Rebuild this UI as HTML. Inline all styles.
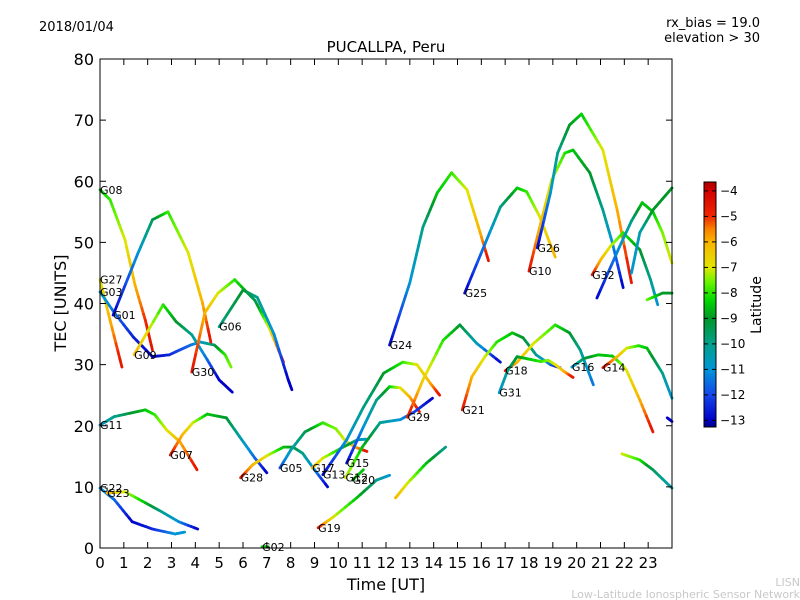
<!DOCTYPE html>
<html><head><meta charset="utf-8"><style>
body{margin:0;background:#fff;}
svg{display:block;font-family:"DejaVu Sans","Liberation Sans",sans-serif;}
</style></head><body>
<svg id="chart" width="800" height="600" xmlns="http://www.w3.org/2000/svg">
<rect width="800" height="600" fill="#fff"/>
<text x="39" y="31" font-size="13">2018/01/04</text>
<text x="386" y="52" font-size="15" text-anchor="middle">PUCALLPA, Peru</text>
<text x="760" y="27" font-size="13" text-anchor="end">rx_bias = 19.0</text>
<text x="760" y="42" font-size="13" text-anchor="end">elevation &gt; 30</text>
<text x="800" y="586" font-size="11" fill="#c8c8c8" text-anchor="end">LISN</text>
<text x="800" y="598" font-size="11" fill="#c8c8c8" text-anchor="end">Low-Latitude Ionospheric Sensor Network</text>
<g id="tracks"></g>
<g id="labels"></g>
<rect x="100" y="59" width="572" height="489" fill="none" stroke="#000" stroke-width="1"/>
<g id="axes"></g>
<text x="386" y="590" font-size="16" text-anchor="middle">Time [UT]</text>
<text x="0" y="0" font-size="16" text-anchor="middle" transform="translate(66,303) rotate(-90)">TEC [UNITS]</text>
<defs><linearGradient id="jet" x1="0" y1="1" x2="0" y2="0"></linearGradient></defs>
<rect x="704" y="182" width="12" height="245" fill="url(#jet)" stroke="#000" stroke-width="1"/>
<g id="cbticks"></g>
<text x="0" y="0" font-size="14" text-anchor="middle" transform="translate(761,305) rotate(-90)">Latitude</text>
</svg>
<script>
const trackNames = ["G08","G27","G03","G01","G09","G30","G06","G11","G07","G28","G05","G17","G13","G15","G12","G20","G19","G24","G29","G25","G10","G26","G32","G21","G18","G31","G16","G14","G22","G23","G02","","","","",""];
const trackTimes = [
 [0,0.42,1.05,1.47,1.9,2.2],
 [0,0.42,0.92],
 [0,0.6,1.4,2.2,2.9,3.8,4.2,4.8,5.25,5.5],
 [0.55,1.6,2.2,2.85,3.7,4.3,4.65],
 [1.43,2.65,3.2,3.85,4.5,5.0,5.55],
 [3.85,4.4,4.95,5.65,6.5,7.1,7.7],
 [5.0,6.0,6.6,7.3,7.9,8.05],
 [0,0.6,1.9,2.3,2.8,3.35,4.07],
 [2.95,3.45,3.9,4.5,5.3,5.95,6.5,7.0],
 [5.9,6.4,7.05,7.7,8.1,8.5,9.0,9.55],
 [7.55,8.0,8.6,9.35,9.9,10.3,10.7,11.2],
 [8.9,9.35,10.2,10.8,11.15],
 [9.35,10.35,11.05,11.9,12.7,13.3,13.85,14.25],
 [10.35,11.05,11.6,12.15,12.6,13.0,13.4],
 [10.3,11.0,11.75,12.6,13.2,13.95],
 [10.6,11.05],
 [9.15,9.8,10.8,11.6,12.15],
 [12.15,13.0,13.55,14.15,14.75,15.4,15.95,16.3],
 [12.9,13.55,14.4,15.1,15.8,16.8],
 [15.3,16.35,16.8,17.5,17.9,18.45,19.1],
 [18.0,18.45,18.95,19.5,19.85,20.55,21.1,21.5,21.95],
 [18.35,18.9,19.2,19.7,20.2,21.1,21.7,22.3],
 [20.65,21.0,21.4,21.95,22.65,23.1,23.4],
 [15.2,15.6,16.15,16.65,17.3,17.75,18.3,18.9,19.3],
 [17.0,17.5,18.2,19.1,19.7,20.15,20.7],
 [16.75,17.1,17.5,18.0,18.5,18.8,19.1,19.5,19.85],
 [19.8,20.3,20.9,21.5,21.9,22.1,22.65,23.2],
 [21.1,21.7,22.1,22.6,22.95,23.6,24],
 [0,0.6,1.35,2.2,3.15,3.55],
 [0.3,1.05,1.9,2.6,3.3,4.1],
 [6.8,7.05],
 [12.4,12.9,13.7,14.5],
 [20.85,21.8,22.3,22.75,23.2,23.6,24],
 [22.3,22.65,23.2,24],
 [22.95,23.6,24],
 [21.9,22.65,23.2,24],
 [23.8,24]
];
const trackTec = [
 [58.6,57,50.4,43,37.3,32.4],
 [43.9,37.3,29.6],
 [41.9,38.5,34.5,31.3,31.6,33.2,33.7,33.2,31.6,29.6],
 [38.1,48.3,53.7,55,48.3,40.1,33.7],
 [31.6,39.8,37,34.9,30.8,27.5,25.5],
 [28.8,38.5,41.7,43.9,40.5,36,30.4],
 [36.2,42.2,41,35,27.5,25.9],
 [20.1,21.5,22.6,21.8,19.3,17.4,12.8],
 [15.2,18.5,20.5,21.9,21.3,17.7,14.7,12.3],
 [11.5,13.6,15.2,16.5,16.5,15.5,12.8,10],
 [13.1,16,19,20.5,19.5,17.5,16.5,15.8],
 [13.1,14.7,16.5,17.7,17.8],
 [12,17.7,23,28.6,30.4,30,27,25],
 [13.9,19.8,24.2,26.4,26.2,24.7,22.3],
 [11.5,16.5,20.5,21,22.3,24.5],
 [11.1,12.8],
 [3.3,5.1,8.3,11.1,11.9],
 [33.2,43.4,52.5,58.1,61.4,58.6,51.6,47],
 [21.4,27.5,34,36.5,33.5,30.4],
 [41.7,51.6,55.8,58.9,58.3,54.2,47.6],
 [45.3,52.5,60.2,64.6,65.1,61.4,55.3,49.9,42.6],
 [49.1,58.1,64.6,69.2,71,65.1,55.3,43.4],
 [44.7,47.1,49.3,51.6,48.8,43.9,39.8],
 [22.6,28,31.3,33.7,35.2,34.4,31.6,30,29.5],
 [29,30.4,33.5,36.5,35.2,32.4,26.7],
 [25.4,29,31.3,30.9,30.5,30.7,30,28.8,27.9],
 [29.6,31,31.6,31.4,30,29,24.2,19],
 [29.5,31.3,32.7,33.1,32.7,28.6,24.5],
 [9.8,7.9,4.3,3.1,2.3,2.6],
 [9.0,9.2,7.4,5.9,4.3,3.1],
 [0.2,0.2],
 [8.2,10.6,13.9,16.5],
 [40.9,49.3,53.5,56.5,55,51.6,46.6],
 [45,51.6,55.3,58.9],
 [40.6,41.7,41.7],
 [15.4,14.4,12.8,9.8],
 [21.3,20.7]
];
const trackLat = [
 [-8.5,-8,-7,-6,-5,-4.5],
 [-7,-6,-4.5],
 [-10.5,-11.5,-12.5,-13,-12.5,-11.5,-11,-9.5,-8,-7.5],
 [-13,-11,-9.5,-8,-7,-6,-4.5],
 [-6,-8,-9,-10,-11.5,-13,-13],
 [-4.5,-6,-7,-8,-9.5,-7,-4.5],
 [-10,-9,-10,-11,-13,-13],
 [-11,-10,-8.5,-8,-7,-6,-4.5],
 [-4.5,-6,-7,-8.5,-9,-10.5,-11.5,-13],
 [-4.5,-6,-7,-8.5,-9,-10,-11,-13],
 [-12,-10.5,-9.5,-8,-7.5,-7,-6,-4.5],
 [-6,-7,-8.5,-10,-11],
 [-13,-11,-10,-9,-8,-7,-6,-4.5],
 [-13,-11,-10,-8.5,-7,-6,-4.5],
 [-7,-8.5,-10,-11,-12,-13],
 [-8.5,-8.5],
 [-4.5,-7,-8.5,-10,-11],
 [-13,-11,-10,-8.5,-8,-7,-6,-4.5],
 [-4.5,-6.5,-8,-9,-10.5,-13],
 [-13,-11,-10,-8.5,-8,-7,-6],
 [-4.5,-6,-7,-8,-8.5,-9,-10,-11,-13],
 [-13,-11,-10,-9,-8.5,-7,-6,-4.5],
 [-4.5,-6,-7,-8,-9,-10,-11],
 [-4.5,-6,-7,-8,-8.5,-9,-10,-11.5,-13],
 [-4.5,-6,-7,-8,-9,-10,-11.5],
 [-11,-10,-9,-8.5,-8,-7.5,-7,-6,-4.5],
 [-11,-9.5,-8.5,-8.5,-7.5,-7,-6,-4.5],
 [-4.5,-6,-7,-8,-8.5,-10,-11],
 [-11,-11.5,-13,-12.5,-11,-11],
 [-6,-7,-8.5,-10,-11,-13],
 [-8.5,-8.5],
 [-6,-7,-8.5,-10],
 [-13,-11,-10,-8.5,-8.5,-7.5,-7],
 [-11,-10.5,-9,-9],
 [-7.5,-9,-9],
 [-7,-8,-9.5,-10.5],
 [-13,-13]
];
const xTicks = [0,1,2,3,4,5,6,7,8,9,10,11,12,13,14,15,16,17,18,19,20,21,22,23];
const yTicks = [0,10,20,30,40,50,60,70,80];
const cbTicks = [-4,-5,-6,-7,-8,-9,-10,-11,-12,-13];

const X0=100,X1=672,Y0=548,Y1=59;
const xs = t => X0 + t*(X1-X0)/24;
const ys = v => Y0 - v*(Y0-Y1)/80;
const LMIN=-13.26, LMAX=-3.65;
const cbY = l => 427 - (l-LMIN)/(LMAX-LMIN)*245;
const CS=[[-13.26,0,0,130],[-13,0,0,200],[-12,20,70,235],[-11,0,150,215],[-10,0,160,140],[-9,0,150,40],[-8.3,0,215,0],[-7.6,100,245,0],[-7,225,230,0],[-6,250,180,0],[-5.5,250,130,0],[-5,240,40,0],[-4,210,0,0],[-3.65,175,0,0]];
function jet(l){
  l=Math.max(LMIN,Math.min(LMAX,l));
  for(let i=0;i<CS.length-1;i++){
    if(l<=CS[i+1][0]){const f=(l-CS[i][0])/(CS[i+1][0]-CS[i][0]);
      const c=k=>Math.round(CS[i][k]+(CS[i+1][k]-CS[i][k])*f);
      return `rgb(${c(1)},${c(2)},${c(3)})`;}
  }
  return 'rgb(175,0,0)';
}
const NS="http://www.w3.org/2000/svg";
const grad=document.getElementById('jet');
CS.forEach(s=>{const st=document.createElementNS(NS,'stop');st.setAttribute('offset',(s[0]-LMIN)/(LMAX-LMIN));st.setAttribute('stop-color',`rgb(${s[1]},${s[2]},${s[3]})`);grad.appendChild(st);});
const gT=document.getElementById('tracks'), gL=document.getElementById('labels');
trackTimes.forEach((ts,i)=>{
  const g=document.createElementNS(NS,'g');
  
  
  for(let k=0;k<ts.length-1;k++){
    const N=6;
    for(let s=0;s<N;s++){
      const a=s/N,b=(s+1)/N,m=(a+b)/2;
      const ln=document.createElementNS(NS,'line');
      ln.setAttribute('x1',xs(ts[k]+(ts[k+1]-ts[k])*a));
      ln.setAttribute('y1',ys(trackTec[i][k]+(trackTec[i][k+1]-trackTec[i][k])*a));
      ln.setAttribute('x2',xs(ts[k]+(ts[k+1]-ts[k])*b));
      ln.setAttribute('y2',ys(trackTec[i][k]+(trackTec[i][k+1]-trackTec[i][k])*b));
      ln.setAttribute('stroke',jet(trackLat[i][k]+(trackLat[i][k+1]-trackLat[i][k])*m));
      ln.setAttribute('stroke-width','2.8');
      ln.setAttribute('stroke-linecap','round');
      
      
      g.appendChild(ln);
    }
  }
  gT.appendChild(g);
  if(trackNames[i]){
    const t=document.createElementNS(NS,'text');
    t.setAttribute('x',xs(ts[0]));
    t.setAttribute('y',ys(trackTec[i][0])+4);
    t.setAttribute('font-size','11');
    t.textContent=trackNames[i];
    
    
    gL.appendChild(t);
  }
});
const gA=document.getElementById('axes');
function add(parent,tag,attrs,text){const e=document.createElementNS(NS,tag);for(const k in attrs)e.setAttribute(k,attrs[k]);if(text!==undefined)e.textContent=text;parent.appendChild(e);return e;}
xTicks.forEach(t=>{
  const x=xs(t);
  const a=add(gA,'line',{x1:x,y1:Y0,x2:x,y2:Y0-6,stroke:'#000'});
  
  
  const b=add(gA,'line',{x1:x,y1:Y1,x2:x,y2:Y1+6,stroke:'#000'});
  
  
  const l=add(gA,'text',{x:x,y:568,'font-size':'15','text-anchor':'middle'},String(t));
  
  
});
yTicks.forEach(v=>{
  const y=ys(v);
  const a=add(gA,'line',{x1:X0,y1:y,x2:X0+6,y2:y,stroke:'#000'});
  
  
  const b=add(gA,'line',{x1:X1,y1:y,x2:X1-6,y2:y,stroke:'#000'});
  
  
  const l=add(gA,'text',{x:94,y:y+6,'font-size':'16','text-anchor':'end'},String(v));
  
  
});
const gC=document.getElementById('cbticks');
cbTicks.forEach(v=>{
  const y=cbY(v);
  const a=add(gC,'line',{x1:704,y1:y,x2:708,y2:y,stroke:'#000'});
  
  
  const b=add(gC,'line',{x1:712,y1:y,x2:716,y2:y,stroke:'#000'});
  
  
  const l=add(gC,'text',{x:720,y:y+4,'font-size':'12'},'\u2212'+Math.abs(v));
  
  
});
</script>
</body></html>
